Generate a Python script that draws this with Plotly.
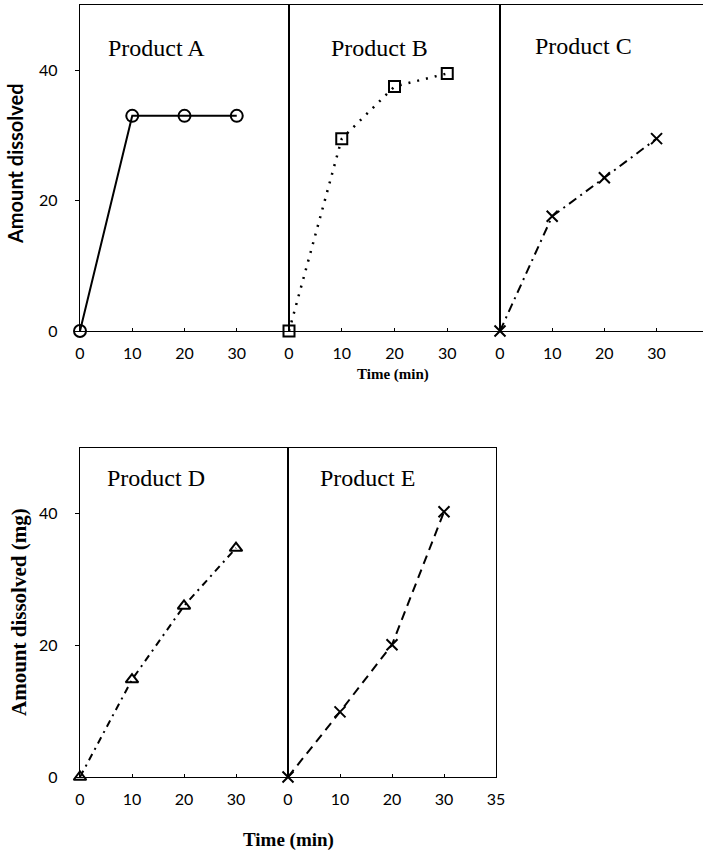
import plotly.graph_objects as go

# Dissolution profiles: amount dissolved vs time for five products
time_min = [0, 10, 20, 30]
product_a = [0, 33, 33, 33]
product_b = [0, 29.5, 37.5, 39.5]
product_c = [0, 17.6, 23.5, 29.5]
product_d = [0, 14.8, 26, 34.8]
product_e = [0, 9.9, 20.1, 40.3]

panel_names = ["Product A", "Product B", "Product C", "Product D", "Product E"]
y_ticks = [0, 20, 40]
x_ticks = [0, 10, 20, 30]
e_tick_vals = [0, 10, 20, 30, 40]
e_tick_text = ["0", "10", "20", "30", "35"]

W, H = 703, 854
SERIF = "Liberation Serif"
SANS = "Lato"


def fx(px):
    return px / W


def fy(py):
    return 1 - py / H


fig = go.Figure()

series = [
    (product_a, "solid", 2, "circle-open", 12, "x", "y"),
    (product_b, "2px,7px", 2.5, "square-open", 11, "x2", "y2"),
    (product_c, "9px,5px,2px,5px", 2, "x-thin-open", 11, "x3", "y3"),
    (product_d, "7px,5px,2px,5px", 2, "triangle-up-open", 11, "x4", "y4"),
    (product_e, "9px,6px", 2, "x-thin-open", 11, "x5", "y5"),
]
for vals, dash, lw, sym, size, xa, ya in series:
    fig.add_trace(go.Scatter(
        x=time_min, y=vals, xaxis=xa, yaxis=ya, mode="lines+markers",
        line=dict(color="black", width=lw, dash=dash),
        marker=dict(symbol=sym, size=size, color="black",
                    line=dict(color="black", width=2)),
        cliponaxis=False, showlegend=False,
    ))

top_dom = [fy(331), fy(5)]
bot_dom = [fy(777), fy(448)]
panels = {
    "": ([fx(80), fx(289)], top_dom, [0, 40], True),
    "2": ([fx(289), fx(500)], top_dom, [0, 40], False),
    "3": ([fx(500), 1.0], top_dom, [0, 38.9], False),
    "4": ([fx(80), fx(288)], bot_dom, [0, 40], True),
    "5": ([fx(288), fx(496)], bot_dom, [0, 40], False),
}

layout = dict(
    template="none",
    width=W, height=H, autosize=False,
    margin=dict(l=0, r=0, t=0, b=0, pad=0),
    paper_bgcolor="white", plot_bgcolor="white",
    showlegend=False,
)
for key, (xd, yd, xr, show_y) in panels.items():
    xax = dict(
        domain=xd, range=xr, anchor="y" + key, automargin=False,
        showgrid=False, zeroline=False,
        showline=True, linecolor="black", linewidth=1.3,
        mirror=True, ticks="inside", ticklen=3, tickcolor="black",
        tickfont=dict(family=SANS, size=16, color="black"),
        ticklabelstandoff=8,
    )
    if key == "5":
        xax.update(tickvals=e_tick_vals, ticktext=e_tick_text)
    else:
        xax.update(tickvals=x_ticks)
    yax = dict(
        domain=yd, range=[0, 50], anchor="x" + key, automargin=False,
        showgrid=False, zeroline=False, showline=True,
        linecolor="black", linewidth=1.3,
        mirror=(key != "3"),
    )
    if show_y:
        yax.update(tickvals=y_ticks, ticks="outside", ticklen=4,
                   tickcolor="black", ticklabelstandoff=14,
                   tickfont=dict(family=SANS, size=16, color="black"))
    else:
        yax.update(showticklabels=False, ticks="")
    layout["xaxis" + key] = xax
    layout["yaxis" + key] = yax

fig.update_layout(**layout)


def label(text, px, py, family, size, angle=0):
    fig.add_annotation(x=fx(px), y=fy(py), xref="paper", yref="paper",
                       text=text, textangle=angle, showarrow=False,
                       xanchor="center", yanchor="middle",
                       font=dict(family=family, size=size, color="black"))


# Panel labels
title_pos = [(156, 48), (379, 48), (583, 46), (156, 478), (367, 478)]
for name, (px, py) in zip(panel_names, title_pos):
    label(name, px, py, SERIF, 24)

# Axis titles
label("<b>Amount dissolved</b>", 15, 164, SANS, 20, -90)
label("<b>Amount dissolved (mg)</b>", 19, 612, SERIF, 21, -90)
label("<b>Time (min)</b>", 393, 375, SERIF, 15)
label("<b>Time (min)</b>", 288, 840, SERIF, 19)

fig.write_html("out.html")
